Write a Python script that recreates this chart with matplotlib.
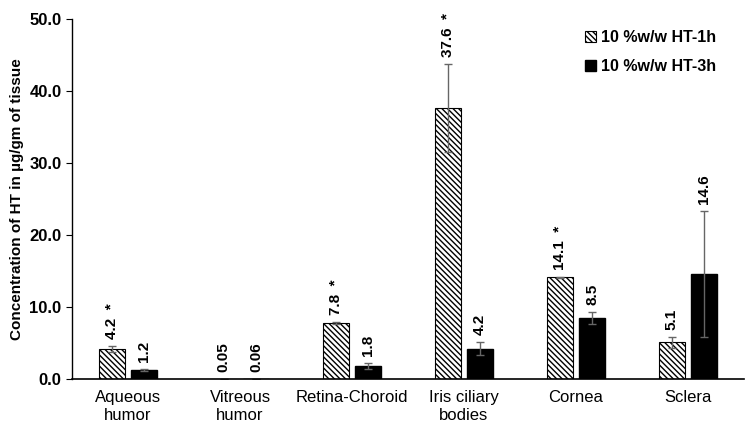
import matplotlib.pyplot as plt
import numpy as np

plt.rcParams['font.family'] = ['Liberation Sans', 'DejaVu Sans']
plt.rcParams['hatch.linewidth'] = 1.0

tissues = ['Aqueous\nhumor', 'Vitreous\nhumor', 'Retina-Choroid', 'Iris ciliary\nbodies', 'Cornea', 'Sclera']
ht_1h = [4.2, 0.05, 7.8, 37.6, 14.1, 5.1]
ht_3h = [1.2, 0.06, 1.8, 4.2, 8.5, 14.6]
err_1h = [0.45, 0.0, 0.1, 6.1, 0.05, 0.8]
err_3h = [0.15, 0.0, 0.45, 0.9, 0.85, 8.8]
labels_1h = ['4.2', '0.05', '7.8', '37.6', '14.1', '5.1']
labels_3h = ['1.2', '0.06', '1.8', '4.2', '8.5', '14.6']
signif = [True, False, True, True, True, False]

x = np.arange(len(tissues))
w = 0.23
off = 0.145

fig = plt.figure(figsize=(7.5, 4.23), dpi=100)
ax = fig.add_axes([0.096, 0.104, 0.896, 0.851])

ax.bar(x - off, ht_1h, w, color='white', edgecolor='black', hatch='\\\\\\\\\\\\',
       linewidth=0.8, label='10 %w/w HT-1h')
ax.bar(x + off, ht_3h, w, color='black', edgecolor='black', label='10 %w/w HT-3h')
ax.errorbar(x - off, ht_1h, yerr=err_1h, fmt='none', ecolor='#666666', elinewidth=1, capsize=3)
ax.errorbar(x + off, ht_3h, yerr=err_3h, fmt='none', ecolor='#666666', elinewidth=1, capsize=3)

for i in range(len(x)):
    t1 = labels_1h[i] + ('  *' if signif[i] else '')
    ax.annotate(t1, (x[i] - off, ht_1h[i] + err_1h[i]), xytext=(0, 5), textcoords='offset points',
                rotation=90, ha='center', va='bottom', fontsize=11, fontweight='bold')
    ax.annotate(labels_3h[i], (x[i] + off, ht_3h[i] + err_3h[i]), xytext=(0, 5), textcoords='offset points',
                rotation=90, ha='center', va='bottom', fontsize=11, fontweight='bold')

ax.set_xlim(-0.5, len(x) - 0.5)
ax.set_ylim(0, 50)
ax.set_yticks(np.arange(0, 51, 10))
ax.set_yticklabels([f'{v:.1f}' for v in np.arange(0, 51, 10)], fontsize=12, fontweight='bold')
ax.set_xticks(x)
ax.set_xticklabels(tissues, fontsize=12)
ax.tick_params(axis='x', length=0, pad=8)
ax.tick_params(axis='y', length=4, direction='out')
ax.set_ylabel('Concentration of HT in µg/gm of tissue', fontsize=11, fontweight='bold')
for s in ['top', 'right']:
    ax.spines[s].set_visible(False)
ax.spines['bottom'].set_linewidth(1.2)
ax.spines['left'].set_linewidth(1.0)

ax.legend(loc='upper right', bbox_to_anchor=(0.98, 1.01), frameon=False,
          prop={'weight': 'bold', 'size': 11.5}, handlelength=0.7, handleheight=0.7,
          handletextpad=0.3, labelspacing=0.9)

fig.savefig('out.png', dpi=100)
